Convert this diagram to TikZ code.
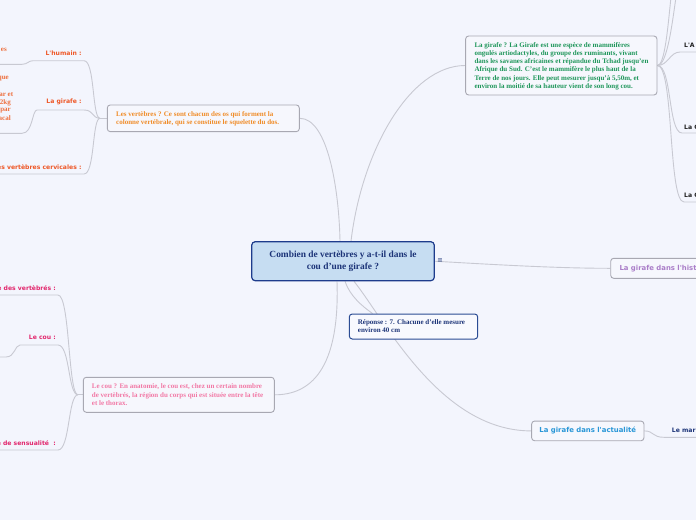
\documentclass[tikz,border=0pt]{standalone}
\usepackage{fontspec}
\setmainfont{Liberation Serif}
\newfontfamily\vsans{DejaVu Sans}
\definecolor{bgcol}{RGB}{243,245,253}
\definecolor{conncol}{RGB}{200,201,210}
\definecolor{boxline}{RGB}{168,168,178}
\definecolor{boxfill}{RGB}{246,247,253}
\definecolor{navy}{RGB}{28,52,120}
\definecolor{centfill}{RGB}{198,221,242}
\definecolor{centline}{RGB}{30,60,140}
\definecolor{repline}{RGB}{43,76,148}
\definecolor{repfill}{RGB}{248,249,254}
\definecolor{orangetxt}{RGB}{240,140,40}
\definecolor{orangelab}{RGB}{238,88,40}
\definecolor{fragcol}{RGB}{238,110,60}
\definecolor{greentxt}{RGB}{30,150,90}
\definecolor{pinktxt}{RGB}{242,120,165}
\definecolor{pinklab}{RGB}{226,40,110}
\definecolor{purpletxt}{RGB}{170,125,200}
\definecolor{bluetxt}{RGB}{40,150,215}
\definecolor{darklab}{RGB}{30,30,30}
\pgfdeclarelayer{back}
\pgfsetlayers{back,main}
\begin{document}
\begin{tikzpicture}[x=1pt,y=-1pt,
  conn/.style={draw=conncol, line width=0.9pt},
  topicbox/.style={draw=boxline, fill=boxfill, rounded corners=3pt, line width=0.9pt, inner sep=0pt},
  boxtext/.style={font=\fontsize{7}{8.2}\selectfont\bfseries, align=left, anchor=west, inner sep=0pt},
  lab/.style={font=\vsans\bfseries\fontsize{6.1}{7}\selectfont, inner sep=0pt},
  toptext/.style={font=\vsans\bfseries\fontsize{6.9}{8}\selectfont, inner sep=0pt},
  frag/.style={font=\fontsize{7}{8.2}\selectfont\bfseries, text=fragcol, anchor=east, inner sep=0pt}
]
\useasboundingbox (0,0) rectangle (696,520);
\clip (0,0) rectangle (696,520);

% central topic
\node[draw=centline, fill=centfill, rounded corners=3.5pt, line width=1.2pt,
      minimum width=182.6, minimum height=39, inner sep=0pt, align=center, text=navy,
      font=\fontsize{9.4}{12}\selectfont\bfseries] (cent) at (343,261.2)
      {Combien de vertèbres y a-t-il dans le\\cou d'une girafe ?};
\node[font=\vsans\fontsize{6.5}{6.5}\selectfont, text=navy, inner sep=0.5pt] (icon) at (440,261) {≡};

% top-left
\node[topicbox, minimum width=192, minimum height=26.7] (tl) at (203.3,118.3) {};
\node[boxtext, text=orangetxt] (tltext) at (116,118.5)
  {Les vertèbres ? Ce sont chacun des os qui forment la\\colonne vertébrale, qui se constitue le squelette du dos.};

% top-right
\node[topicbox, minimum width=191.3, minimum height=59] (tr) at (561.3,65.5) {};
\node[boxtext, text=greentxt] (trtext) at (474.3,66.2)
  {La girafe ? La Girafe est une espèce de mammifères\\ongulés artiodactyles, du groupe des ruminants, vivant\\dans les savanes africaines et répandue du Tchad jusqu'en\\Afrique du Sud. C'est le mammifère le plus haut de la\\Terre de nos jours. Elle peut mesurer jusqu'à 5,50m, et\\environ la moitié de sa hauteur vient de son long cou.};

% reponse
\node[draw=repline, fill=repfill, rounded corners=3pt, line width=1pt,
      minimum width=128.4, minimum height=25, inner sep=0pt] (rep) at (413.5,326.5) {};
\node[boxtext, text=navy] (reptext) at (357.7,325.8) {Réponse : 7. Chacune d'elle mesure\\environ 40 cm};

% pink
\node[topicbox, minimum width=191, minimum height=35] (pk) at (178.8,394.8) {};
\node[boxtext, text=pinktxt] (pktext) at (91.7,394.8)
  {Le cou ? En anatomie, le cou est, chez un certain nombre\\de vertèbrés, la région du corps qui est située entre la tête\\et le thorax.};

% history
\node[topicbox, minimum width=110, minimum height=20] (hist) at (665.7,268.3) {};
\node[toptext, text=purpletxt, anchor=west] (histtext) at (619.3,268.3) {La girafe dans l'histoire};

% actualite
\node[topicbox, toptext, text=bluetxt, minimum width=112.3, minimum height=19.7] (act) at (587.8,430.9) {La girafe dans l'actualité};

% labels
\node[lab, text=orangelab, anchor=east] (hum) at (81.7,53.3) {L'humain :};
\node[lab, text=orangelab, anchor=east] (gir) at (81.7,102.3) {La girafe :};
\node[lab, text=orangelab, anchor=east] (cerv) at (81.7,167.3) {es vertèbres cervicales :};
\node[lab, text=pinklab, anchor=east] (vert) at (56,288.3) {e des vertèbrés :};
\node[lab, text=pinklab, anchor=east] (cou) at (56,337.3) {Le cou :};
\node[lab, text=pinklab, anchor=east] (sens) at (56,443.3) {e de sensualité~ :};
\node[lab, text=darklab, anchor=west] (la1) at (684,45) {L'A};
\node[lab, text=darklab, anchor=west] (lg1) at (684,127) {La G};
\node[lab, text=darklab, anchor=west] (lg2) at (684,195) {La G};
\node[lab, text=navy, anchor=west] (mar) at (671.7,430.7) {Le mar};

% fragments at left edge
\node[frag] (f1) at (7,50) {es};
\node[frag] (f2) at (9,79) {que};
\node[frag] (f3) at (13.3,94.3) {car et};
\node[frag] (f4) at (11,102.7) {2kg};
\node[frag] (f5) at (11,110.3) {par};
\node[frag] (f6) at (11,118.3) {acal};

\begin{pgfonlayer}{back}
\clip (0,0) rectangle (696,520);
\fill[bgcol] (0,0) rectangle (696,520);
% central links
\draw[conn] (tl.east) .. controls (328,118.3) and (339,190) .. ([xshift=-3pt]cent.north);
\draw[conn] ([xshift=8pt]cent.north) .. controls (362,150) and (410,65.5) .. (tr.west);
\draw[conn] (cent.east) .. controls (500,265) and (560,268.3) .. (hist.west);
\draw[conn] ([xshift=-6pt]cent.south) .. controls (340,370) and (310,394.8) .. (pk.east);
\draw[conn] ([xshift=2pt]cent.south) .. controls (350,296) and (362,306) .. ([xshift=-41pt]rep.north);
\draw[conn] ([xshift=11pt]cent.south) .. controls (385,320) and (440,430.9) .. (act.west);
% top-left branches
\coordinate (tlhub) at (100,118.3);
\coordinate (e1) at (-5,64.3);
\coordinate (e2) at (-5,133.3);
\coordinate (e3) at (-5,174);
\draw[conn] (tl.west) -- (tlhub);
\draw[conn] (tlhub) .. controls (92,118.3) and (95,60.7) .. (84,60.7) -- (33,60.7) .. controls (28,60.7) and (28,64.3) .. (22,64.3) -- (e1);
\draw[conn] (tlhub) .. controls (92,118.3) and (94,110) .. (84,110) -- (37,110) .. controls (32,110) and (33,133.3) .. (22,133.3) -- (e2);
\draw[conn] (tlhub) .. controls (92,118.3) and (95,174) .. (84,174) -- (e3);
% pink branches
\coordinate (pkhub) at (78,394.8);
\coordinate (p1) at (-5,295);
\coordinate (p2) at (-5,357);
\coordinate (p3) at (-5,450);
\draw[conn] (pk.west) -- (pkhub);
\draw[conn] (pkhub) .. controls (68,394.8) and (70,295) .. (58,295) -- (p1);
\draw[conn] (pkhub) .. controls (68,394.8) and (70,345) .. (58,345) -- (20,345) .. controls (15,345) and (15,357) .. (6,357) -- (p2);
\draw[conn] (pkhub) .. controls (68,394.8) and (70,450) .. (58,450) -- (p3);
% top-right branches
\coordinate (r0a) at (671,-3);
\coordinate (r0b) at (676,-3);
\coordinate (r1) at (700,52);
\coordinate (r2) at (700,133);
\coordinate (r3) at (700,202);
\draw[conn] (tr.east) .. controls (665,65.5) and (668,25) .. (r0a);
\draw[conn] (tr.east) .. controls (667,65.5) and (672,25) .. (r0b);
\draw[conn] (tr.east) .. controls (668,65.5) and (670,52) .. (680,52) -- (r1);
\draw[conn] (tr.east) .. controls (672,65.5) and (668,133) .. (682,133) -- (r2);
\draw[conn] (tr.east) .. controls (674,65.5) and (668,202) .. (684,202) -- (r3);
% actualite branch
\coordinate (m1) at (700,437.3);
\draw[conn] (act.east) .. controls (654,430.9) and (652,437.3) .. (664,437.3) -- (m1);
\end{pgfonlayer}
\end{tikzpicture}
\end{document}
